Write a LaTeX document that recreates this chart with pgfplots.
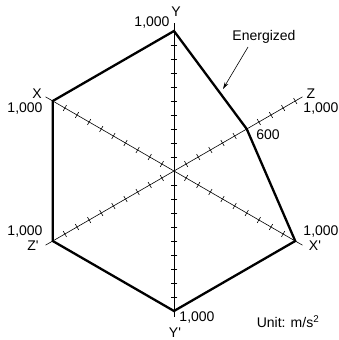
\documentclass[border=0pt]{standalone}
\usepackage{fontspec}
\setmainfont{Liberation Sans}
\usepackage{pgfplots}
\usepgfplotslibrary{polar}
\usetikzlibrary{arrows.meta}
\pgfplotsset{compat=1.18}

\begin{document}
\begin{tikzpicture}[font=\fontsize{14}{16}\selectfont, every node/.style={inner sep=0pt}]
\path (-174pt,-169pt) rectangle (164pt,171pt);
\begin{polaraxis}[
    at={(0,0)}, anchor=center,
    hide axis, scale only axis,
    width=296.8pt, height=296.8pt,
    xmin=0, xmax=360, ymin=0, ymax=1060,
    clip=false,
]
% spokes
\addplot[black, line width=0.6pt, mark=none] coordinates {(90,0)(90,1060)};
\addplot[black, line width=0.6pt, mark=none] coordinates {(270,0)(270,1040)};
\addplot[black, line width=0.6pt, mark=none] coordinates {(30,0)(30,1060)};
\addplot[black, line width=0.6pt, mark=none] coordinates {(210,0)(210,1060)};
\addplot[black, line width=0.6pt, mark=none] coordinates {(150,0)(150,1060)};
\addplot[black, line width=0.6pt, mark=none] coordinates {(330,0)(330,1060)};
% ticks every 100
\addplot[black, only marks, mark=|, mark size=3.3pt, mark options={rotate=90, line width=0.6pt}]
  coordinates {(90,100)(90,200)(90,300)(90,400)(90,500)(90,600)(90,700)(90,800)(90,900)};
\addplot[black, only marks, mark=|, mark size=3.3pt, mark options={rotate=270, line width=0.6pt}]
  coordinates {(270,100)(270,200)(270,300)(270,400)(270,500)(270,600)(270,700)(270,800)(270,900)};
\addplot[black, only marks, mark=|, mark size=3.3pt, mark options={rotate=30, line width=0.6pt}]
  coordinates {(30,100)(30,200)(30,300)(30,400)(30,500)(30,600)(30,700)(30,800)(30,900)(30,1000)};
\addplot[black, only marks, mark=|, mark size=3.3pt, mark options={rotate=210, line width=0.6pt}]
  coordinates {(210,100)(210,200)(210,300)(210,400)(210,500)(210,600)(210,700)(210,800)(210,900)};
\addplot[black, only marks, mark=|, mark size=3.3pt, mark options={rotate=150, line width=0.6pt}]
  coordinates {(150,100)(150,200)(150,300)(150,400)(150,500)(150,600)(150,700)(150,800)(150,900)};
\addplot[black, only marks, mark=|, mark size=3.3pt, mark options={rotate=330, line width=0.6pt}]
  coordinates {(330,100)(330,200)(330,300)(330,400)(330,500)(330,600)(330,700)(330,800)(330,900)};
% energized
\addplot[black, line width=2.3pt, mark=none, line join=miter]
  coordinates {(90,1000)(30,600)(330,1000)(270,1000)(210,1000)(150,1000)} -- cycle;
\end{polaraxis}
% labels
\node at (2pt,159pt) {Y};
\node at (-22pt,148pt) {1,000};
\node at (-137pt,77pt) {X};
\node at (-149pt,62pt) {1,000};
\node at (137pt,77pt) {Z};
\node at (147pt,62pt) {1,000};
\node at (94pt,36pt) {600};
\node at (-149pt,-61pt) {1,000};
\node at (-141pt,-75pt) {Z\textquotesingle};
\node at (147pt,-61pt) {1,000};
\node at (141pt,-75pt) {X\textquotesingle};
\node at (23pt,-147pt) {1,000};
\node at (1pt,-162pt) {Y\textquotesingle};
\node at (114pt,-151pt) {Unit: m/s\textsuperscript{2}};
\node at (90pt,134pt) {Energized};
\draw[-{Stealth[length=7pt,width=4pt]}, line width=0.6pt] (74pt,124pt) -- (49pt,82pt);
\end{tikzpicture}
\end{document}
